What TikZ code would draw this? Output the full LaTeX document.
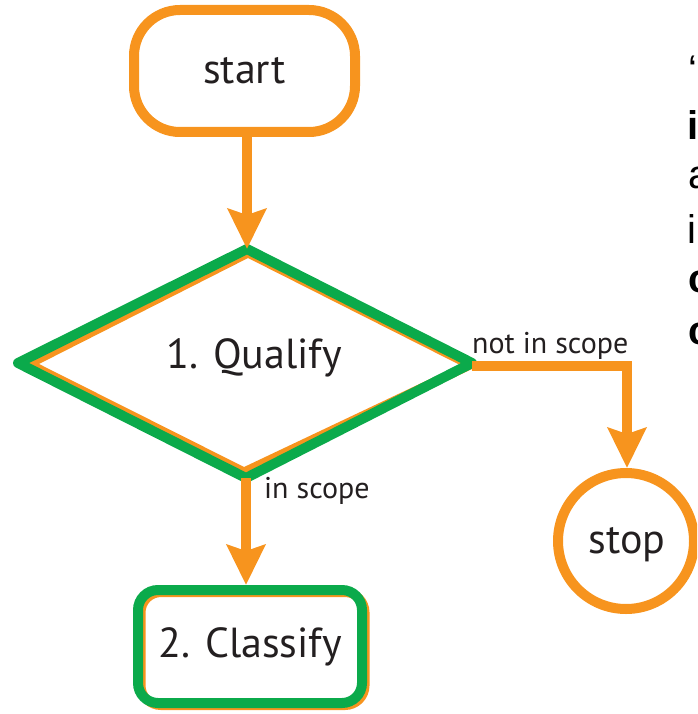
\documentclass[tikz,border=0pt]{standalone}
\usepackage{fontspec}
\setmainfont{PT Sans}
\newfontfamily\arialfont{Liberation Sans}
\usetikzlibrary{arrows.meta,shapes.geometric}
\definecolor{orng}{HTML}{F7941E}
\definecolor{grn}{HTML}{0BAA4B}
\definecolor{txt}{HTML}{231F20}
\tikzset{
  bigtext/.style={font=\fontsize{42}{48}\selectfont, text=txt},
  smalltext/.style={font=\fontsize{30}{34}\selectfont, text=txt},
  flow/.style={draw=orng, line width=10pt, -{Stealth[length=40pt,width=38pt,inset=6pt]}},
  flowline/.style={draw=orng, line width=10pt},
  startbox/.style={draw=orng, line width=10pt, rounded corners=46pt, minimum width=221pt, minimum height=122pt, inner sep=0pt, bigtext},
  classbox/.style={draw=grn, line width=10pt, rounded corners=20pt, minimum width=224pt, minimum height=113pt, inner sep=0pt, bigtext},
  stopcircle/.style={draw=orng, line width=10pt, circle, minimum size=136pt, inner sep=0pt, bigtext},
  sidetext/.style={font=\arialfont\fontsize{40}{52}\selectfont, text=black, anchor=base west, inner sep=0pt}
}
\begin{document}
\begin{tikzpicture}[x=1pt,y=-1pt]
\useasboundingbox (0,0) rectangle (697,714);
\clip (0,0) rectangle (697,714);
% start
\node[startbox] (start) at (244.5,71) {start};
% diamond: orange underlay then green
\coordinate (qT) at (247,249);
\coordinate (qL) at (18,363);
\coordinate (qB) at (246,478);
\coordinate (qR) at (472,363);
\draw[orng, line width=9pt, line join=miter] (248,253) -- (29,364) -- (244,472) -- (470,365) -- cycle;
\draw[grn, line width=10pt, line join=round] (qT) -- (qL) -- (qB) -- (qR) -- cycle;
\node[bigtext] (qual) at (254,358) {1. Qualify};
% classify
\draw[orng, line width=9pt, rounded corners=20pt] (141,592.5) rectangle (365,705.5);
\node[classbox] (class) at (250,646.5) {2. Classify};
% stop
\node[stopcircle] (stop) at (626,541) {};
\node[bigtext] (stoptext) at (627,545) {stop};
% connectors
\draw[flow] (start.south -| qT) -- (qT);
\draw[flow] (qB) -- (class.north -| qB);
\coordinate (corner) at (627,366);
\draw[flowline] (qR |- corner) -- ([xshift=5pt]corner);
\draw[flow] ([yshift=5pt]corner) -- (corner |- stop.north);
% labels
\node[smalltext, anchor=base west, inner sep=0pt] (lin) at (264,498) {in scope};
\node[smalltext, anchor=base west, inner sep=0pt] (lnot) at (472,353) {not in scope};
% cropped side text (cut off by the picture edge, as in the reference)
\node[sidetext] (s1) at (688,84) {‘};
\node[sidetext, font=\arialfont\bfseries\fontsize{40}{52}\selectfont] (s2) at (687,140) {i};
\node[sidetext] (s3) at (688,188) {a};
\node[sidetext] (s4) at (687,243) {i};
\node[sidetext, font=\arialfont\bfseries\fontsize{40}{52}\selectfont] (s5) at (688,292) {c};
\node[sidetext, font=\arialfont\bfseries\fontsize{40}{52}\selectfont] (s6) at (688,344) {c};
\end{tikzpicture}
\end{document}
